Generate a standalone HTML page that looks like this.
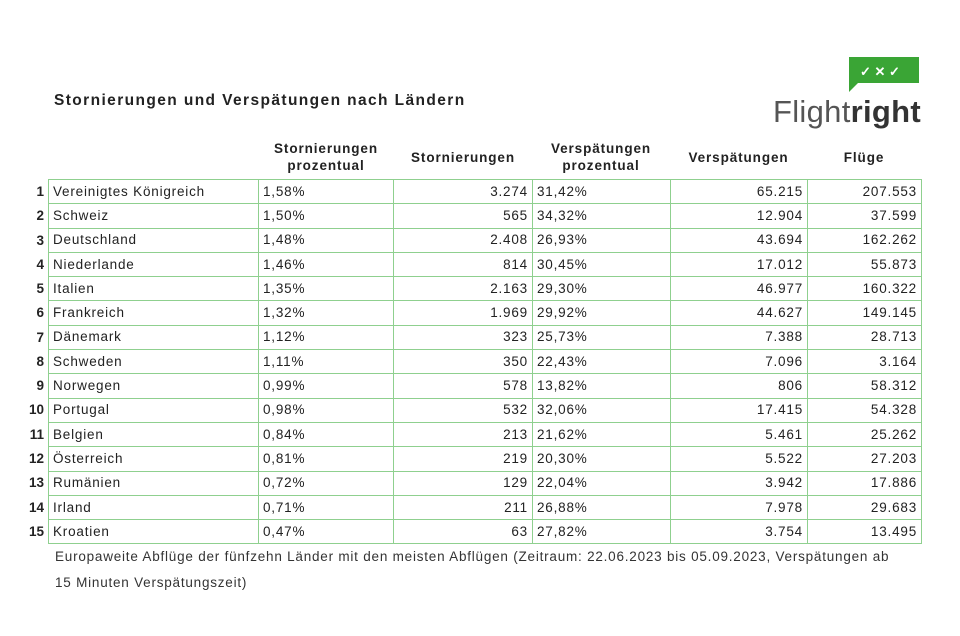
<!DOCTYPE html>
<html><head><meta charset="utf-8"><style>
body{margin:0;width:960px;height:636px;background:#fff;position:relative;font-family:"Liberation Sans",Arial,sans-serif;color:#222;overflow:hidden}
.t{position:absolute}
table{position:absolute;left:48px;top:179px;width:873px;border-collapse:collapse;table-layout:fixed}
td{border:1.5px solid #8fd08f;height:23.3px;padding:0 4px;font-size:13.5px;letter-spacing:0.8px;line-height:16px;white-space:nowrap}
td.r{text-align:right}
.n{position:absolute;width:30px;left:14px;text-align:right;font-weight:bold;font-size:13.5px}
.h{position:absolute;font-weight:bold;font-size:13.5px;letter-spacing:0.9px;text-align:center;line-height:17px}
</style></head><body>
<div class="t" style="left:54px;top:92px;font-weight:bold;font-size:15.5px;letter-spacing:1.4px">Stornierungen und Verspätungen nach Ländern</div>
<svg class="t" style="left:846px;top:55px" width="76" height="38"><path d="M3 2h70v26H12l-9 9z" fill="#3aa535"/><text x="14" y="21" fill="#fff" font-size="13" font-weight="bold" font-family="Liberation Sans">✓ ✕ ✓</text></svg>
<div class="t" style="left:773px;top:94px;font-size:31px;letter-spacing:0.3px;color:#555">Flight<b style="color:#333">right</b></div>
<div class="h" style="left:260px;width:132px;top:140px">Stornierungen<br>prozentual</div>
<div class="h" style="left:394px;width:138px;top:149px">Stornierungen</div>
<div class="h" style="left:532px;width:138px;top:140px">Verspätungen<br>prozentual</div>
<div class="h" style="left:670px;width:137px;top:149px">Verspätungen</div>
<div class="h" style="left:807px;width:114px;top:149px">Flüge</div>
<table>
<colgroup><col style="width:210px"><col style="width:135px"><col style="width:139px"><col style="width:138px"><col style="width:137px"><col style="width:114px"></colgroup>
<tr><td>Vereinigtes Königreich</td><td>1,58%</td><td class="r">3.274</td><td>31,42%</td><td class="r">65.215</td><td class="r">207.553</td></tr>
<tr><td>Schweiz</td><td>1,50%</td><td class="r">565</td><td>34,32%</td><td class="r">12.904</td><td class="r">37.599</td></tr>
<tr><td>Deutschland</td><td>1,48%</td><td class="r">2.408</td><td>26,93%</td><td class="r">43.694</td><td class="r">162.262</td></tr>
<tr><td>Niederlande</td><td>1,46%</td><td class="r">814</td><td>30,45%</td><td class="r">17.012</td><td class="r">55.873</td></tr>
<tr><td>Italien</td><td>1,35%</td><td class="r">2.163</td><td>29,30%</td><td class="r">46.977</td><td class="r">160.322</td></tr>
<tr><td>Frankreich</td><td>1,32%</td><td class="r">1.969</td><td>29,92%</td><td class="r">44.627</td><td class="r">149.145</td></tr>
<tr><td>Dänemark</td><td>1,12%</td><td class="r">323</td><td>25,73%</td><td class="r">7.388</td><td class="r">28.713</td></tr>
<tr><td>Schweden</td><td>1,11%</td><td class="r">350</td><td>22,43%</td><td class="r">7.096</td><td class="r">3.164</td></tr>
<tr><td>Norwegen</td><td>0,99%</td><td class="r">578</td><td>13,82%</td><td class="r">806</td><td class="r">58.312</td></tr>
<tr><td>Portugal</td><td>0,98%</td><td class="r">532</td><td>32,06%</td><td class="r">17.415</td><td class="r">54.328</td></tr>
<tr><td>Belgien</td><td>0,84%</td><td class="r">213</td><td>21,62%</td><td class="r">5.461</td><td class="r">25.262</td></tr>
<tr><td>Österreich</td><td>0,81%</td><td class="r">219</td><td>20,30%</td><td class="r">5.522</td><td class="r">27.203</td></tr>
<tr><td>Rumänien</td><td>0,72%</td><td class="r">129</td><td>22,04%</td><td class="r">3.942</td><td class="r">17.886</td></tr>
<tr><td>Irland</td><td>0,71%</td><td class="r">211</td><td>26,88%</td><td class="r">7.978</td><td class="r">29.683</td></tr>
<tr><td>Kroatien</td><td>0,47%</td><td class="r">63</td><td>27,82%</td><td class="r">3.754</td><td class="r">13.495</td></tr>
</table>
<div class="n" style="top:184px">1</div><div class="n" style="top:208.3px">2</div><div class="n" style="top:232.5px">3</div><div class="n" style="top:256.8px">4</div><div class="n" style="top:281.1px">5</div><div class="n" style="top:305.4px">6</div><div class="n" style="top:329.6px">7</div><div class="n" style="top:353.9px">8</div><div class="n" style="top:378.2px">9</div><div class="n" style="top:402.4px">10</div><div class="n" style="top:426.7px">11</div><div class="n" style="top:451px">12</div><div class="n" style="top:475.2px">13</div><div class="n" style="top:499.5px">14</div><div class="n" style="top:523.8px">15</div>
<div class="t" style="left:55px;top:544px;font-size:13.5px;letter-spacing:0.78px;line-height:26px;color:#333;white-space:nowrap">Europaweite Abflüge der fünfzehn Länder mit den meisten Abflügen (Zeitraum: 22.06.2023 bis 05.09.2023, Verspätungen ab<br>15 Minuten Verspätungszeit)</div>
</body></html>
